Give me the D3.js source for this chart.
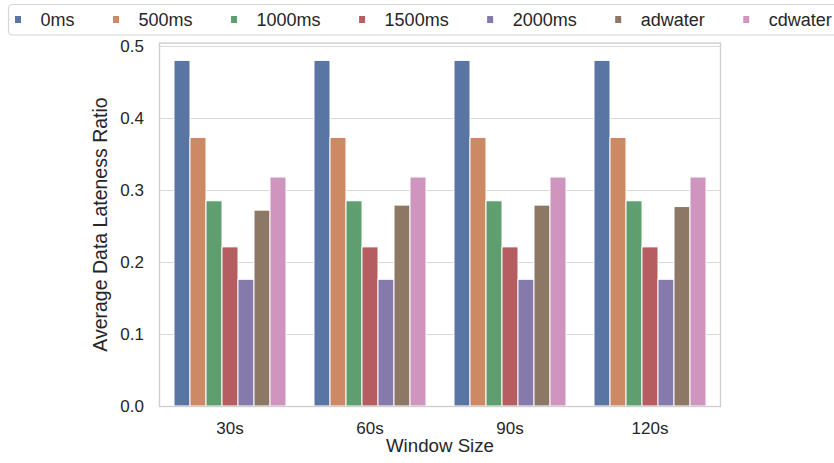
<!DOCTYPE html>
<html>
<head>
<meta charset="utf-8">
<script src="https://cdn.jsdelivr.net/npm/d3@7"></script>
<style>
  html, body { margin: 0; padding: 0; background: #fff; }
  svg { display: block; font-family: "Liberation Sans", Arial, Helvetica, sans-serif; }
</style>
</head>
<body>
<svg id="chart" width="834" height="463"></svg>
<script>
// ---- data ----
const windows = ["30s", "60s", "90s", "120s"];
const seriesNames = ["0ms", "500ms", "1000ms", "1500ms", "2000ms", "adwater", "cdwater"];
const s0ms    = [0.480, 0.480, 0.480, 0.480];
const s500ms  = [0.373, 0.373, 0.373, 0.373];
const s1000ms = [0.285, 0.285, 0.285, 0.285];
const s1500ms = [0.221, 0.221, 0.221, 0.221];
const s2000ms = [0.176, 0.176, 0.176, 0.176];
const sAdwater = [0.272, 0.279, 0.279, 0.277];
const sCdwater = [0.318, 0.318, 0.318, 0.318];
const yTicks = [0.0, 0.1, 0.2, 0.3, 0.4, 0.5];
const colors = ["#5975a4", "#cc8963", "#5f9e6e", "#b55d60", "#857aab", "#8d7866", "#d095bf"];

const seriesValues = [s0ms, s500ms, s1000ms, s1500ms, s2000ms, sAdwater, sCdwater];

// ---- layout ----
const svg = d3.select("#chart");
const L = 160, R = 720, T = 43.1, B = 406;
const textColor = "#262626";

const x = d3.scaleBand().domain(windows).range([L, R]).padding(0);
const inner = d3.scaleBand().domain(seriesNames).range([0, x.bandwidth() * 0.8]).padding(0);
const y = d3.scaleLinear().domain([0, 0.504]).range([B, T]);

// grid lines
svg.append("g").selectAll("line").data(yTicks).join("line")
  .attr("x1", L).attr("x2", R)
  .attr("y1", d => Math.round(y(d)) + 0.5).attr("y2", d => Math.round(y(d)) + 0.5)
  .attr("stroke", "#d9d9d9").attr("stroke-width", 1.2);

// bars
const flat = [];
windows.forEach((w, i) => seriesNames.forEach((s, j) => flat.push({ w, s, j, v: seriesValues[j][i] })));
svg.append("g").selectAll("rect").data(flat).join("rect")
  .attr("x", d => x(d.w) + x.bandwidth() * 0.1 + inner(d.s))
  .attr("width", inner.bandwidth())
  .attr("y", d => y(d.v))
  .attr("height", d => B - y(d.v))
  .attr("fill", d => colors[d.j])
  .attr("stroke", "#ffffff").attr("stroke-width", 1);

// frame
svg.append("rect").attr("x", L - 0.5).attr("y", T).attr("width", R - L + 1).attr("height", B - T + 0.5)
  .attr("fill", "none").attr("stroke", "#cfcfcf").attr("stroke-width", 1.4);

// y axis
const yAxis = d3.axisLeft(y).tickValues(yTicks).tickFormat(d3.format(".1f")).tickSize(0).tickPadding(16);
const gy = svg.append("g").attr("transform", `translate(${L},0)`).call(yAxis);
gy.select(".domain").remove();
gy.selectAll("text").attr("font-size", 17).attr("fill", textColor).attr("dy", "0.35em")
  .attr("font-family", "Liberation Sans, Arial, sans-serif");

// x axis
const xAxis = d3.axisBottom(x).tickSize(0).tickPadding(16);
const gx = svg.append("g").attr("transform", `translate(0,${B})`).call(xAxis);
gx.select(".domain").remove();
gx.selectAll("text").attr("font-size", 17).attr("fill", textColor)
  .attr("font-family", "Liberation Sans, Arial, sans-serif");

// axis titles
svg.append("text").attr("x", (L + R) / 2).attr("y", 452)
  .attr("text-anchor", "middle").attr("font-size", 18.7).attr("fill", textColor)
  .text("Window Size");
svg.append("text").attr("transform", `translate(107,${(T + B) / 2}) rotate(-90)`)
  .attr("text-anchor", "middle").attr("font-size", 19.5).attr("fill", textColor)
  .text("Average Data Lateness Ratio");

// legend
const lg = svg.append("g");
lg.append("rect").attr("x", 8.5).attr("y", 4.5).attr("width", 840).attr("height", 30.5)
  .attr("rx", 4).attr("fill", "#fff").attr("stroke", "#d6d6d6").attr("stroke-width", 1.2);
let cx = 15;
seriesNames.forEach((s, j) => {
  lg.append("rect").attr("x", cx).attr("y", 16).attr("width", 6).attr("height", 7).attr("fill", colors[j]);
  const t = lg.append("text").attr("x", cx + 25.5).attr("y", 26).attr("font-size", 18)
    .attr("fill", textColor).text(s);
  cx = cx + 25.5 + t.node().getComputedTextLength() + 38.5;
});
</script>
</body>
</html>
